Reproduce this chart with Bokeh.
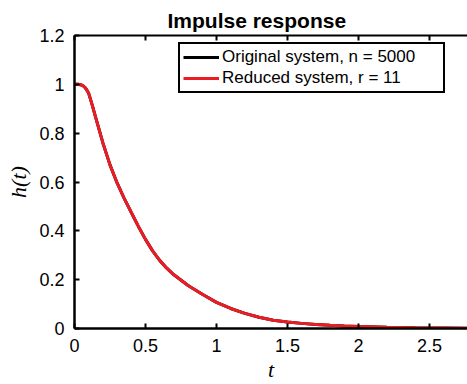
from bokeh.plotting import figure
from bokeh.models import Range1d, LinearAxis, Legend, LegendItem, FixedTicker, ColumnDataSource
from bokeh.embed import file_html
from bokeh.resources import INLINE

t_vals = [0.0, 0.025, 0.05, 0.0625, 0.075, 0.0875, 0.1, 0.125, 0.15, 0.2, 0.25, 0.3, 0.35, 0.4,
          0.45, 0.5, 0.55, 0.6, 0.65, 0.7, 0.8, 0.9, 1.0, 1.1, 1.2, 1.3, 1.4, 1.5, 1.6, 1.7,
          1.8, 1.9, 2.0, 2.2, 2.4, 2.6, 2.8]
h_original = [1.0, 1.0, 0.997, 0.993, 0.986, 0.976, 0.963, 0.915, 0.863, 0.76, 0.67, 0.596,
              0.533, 0.475, 0.418, 0.365, 0.318, 0.279, 0.247, 0.22, 0.176, 0.14, 0.107,
              0.082, 0.062, 0.046, 0.034, 0.027, 0.021, 0.0165, 0.013, 0.010, 0.008, 0.005,
              0.003, 0.002, 0.001]
h_reduced = list(h_original)

series_labels = ["Original system, n = 5000", "Reduced system, r = 11"]
x_ticks = [0, 0.5, 1, 1.5, 2, 2.5]
y_ticks = [0, 0.2, 0.4, 0.6, 0.8, 1.0, 1.2]

FONT = "Liberation Sans"

p = figure(width=467, height=384, output_backend="svg", toolbar_location=None,
           x_range=Range1d(0, 2.768), y_range=Range1d(0, 1.2),
           min_border_left=74, min_border_right=0, min_border_top=35, min_border_bottom=55,
           title="Impulse response")
p.title.text_font = FONT
p.title.text_font_size = "21px"
p.title.text_font_style = "bold"
p.title.text_color = "black"
p.title.align = "left"
p.title.offset = 93
p.title.standoff = 7
p.title_location = "above"

p.xgrid.visible = False
p.ygrid.visible = False
p.outline_line_color = None
p.background_fill_color = "white"
p.border_fill_color = "white"

for ax in (p.xaxis[0], p.yaxis[0]):
    ax.axis_line_width = 2.5
    ax.axis_line_color = "black"
    ax.major_tick_in = 5
    ax.major_tick_out = 0
    ax.major_tick_line_width = 2
    ax.major_tick_line_color = "black"
    ax.minor_tick_line_color = None
    ax.major_label_text_font = FONT
    ax.major_label_text_font_size = "18px"
    ax.major_label_text_color = "black"
    ax.axis_label_text_font = "Liberation Serif"
    ax.axis_label_text_font_style = "italic"
    ax.axis_label_text_font_size = "22px"
    ax.axis_label_text_color = "black"

p.xaxis.ticker = FixedTicker(ticks=x_ticks)
p.yaxis.ticker = FixedTicker(ticks=y_ticks)
p.xaxis.major_label_overrides = {0: "0", 0.5: "0.5", 1: "1", 1.5: "1.5", 2: "2", 2.5: "2.5"}
p.yaxis.major_label_overrides = {0: "0", 0.2: "0.2", 0.4: "0.4", 0.6: "0.6", 0.8: "0.8", 1.0: "1", 1.2: "1.2"}
p.xaxis.axis_label = "t"
p.yaxis.axis_label = "h(t)"
p.xaxis.axis_label_standoff = 2
p.yaxis.axis_label_standoff = 5
p.xaxis.major_label_standoff = 10
p.yaxis.major_label_standoff = 10

top = LinearAxis(ticker=FixedTicker(ticks=x_ticks))
top.axis_line_width = 2
top.axis_line_color = "black"
top.major_tick_in = 5
top.major_tick_out = 0
top.major_tick_line_width = 2
top.minor_tick_line_color = None
top.major_label_text_font_size = "0px"
top.major_label_text_alpha = 0
top.major_label_standoff = 0
p.add_layout(top, "above")

src = ColumnDataSource(dict(t=t_vals, ho=h_original, hr=h_reduced))
r1 = p.line("t", "ho", source=src, line_color="black", line_width=3)
r2 = p.line("t", "hr", source=src, line_color="#ec1c24", line_width=3)

legend = Legend(items=[LegendItem(label=series_labels[0], renderers=[r1]),
                       LegendItem(label=series_labels[1], renderers=[r2])],
                location=(104, 235))
legend.border_line_color = "black"
legend.border_line_alpha = 1
legend.border_line_width = 2
legend.label_text_font = FONT
legend.label_text_font_size = "17px"
legend.label_text_color = "black"
legend.glyph_width = 36
legend.glyph_height = 18
legend.label_height = 18
legend.label_standoff = 3
legend.spacing = 1
legend.padding = 3
legend.margin = 0
legend.label_width = 218
legend.background_fill_alpha = 1
p.add_layout(legend, "center")

open("out.html", "w").write(file_html(p, INLINE))
